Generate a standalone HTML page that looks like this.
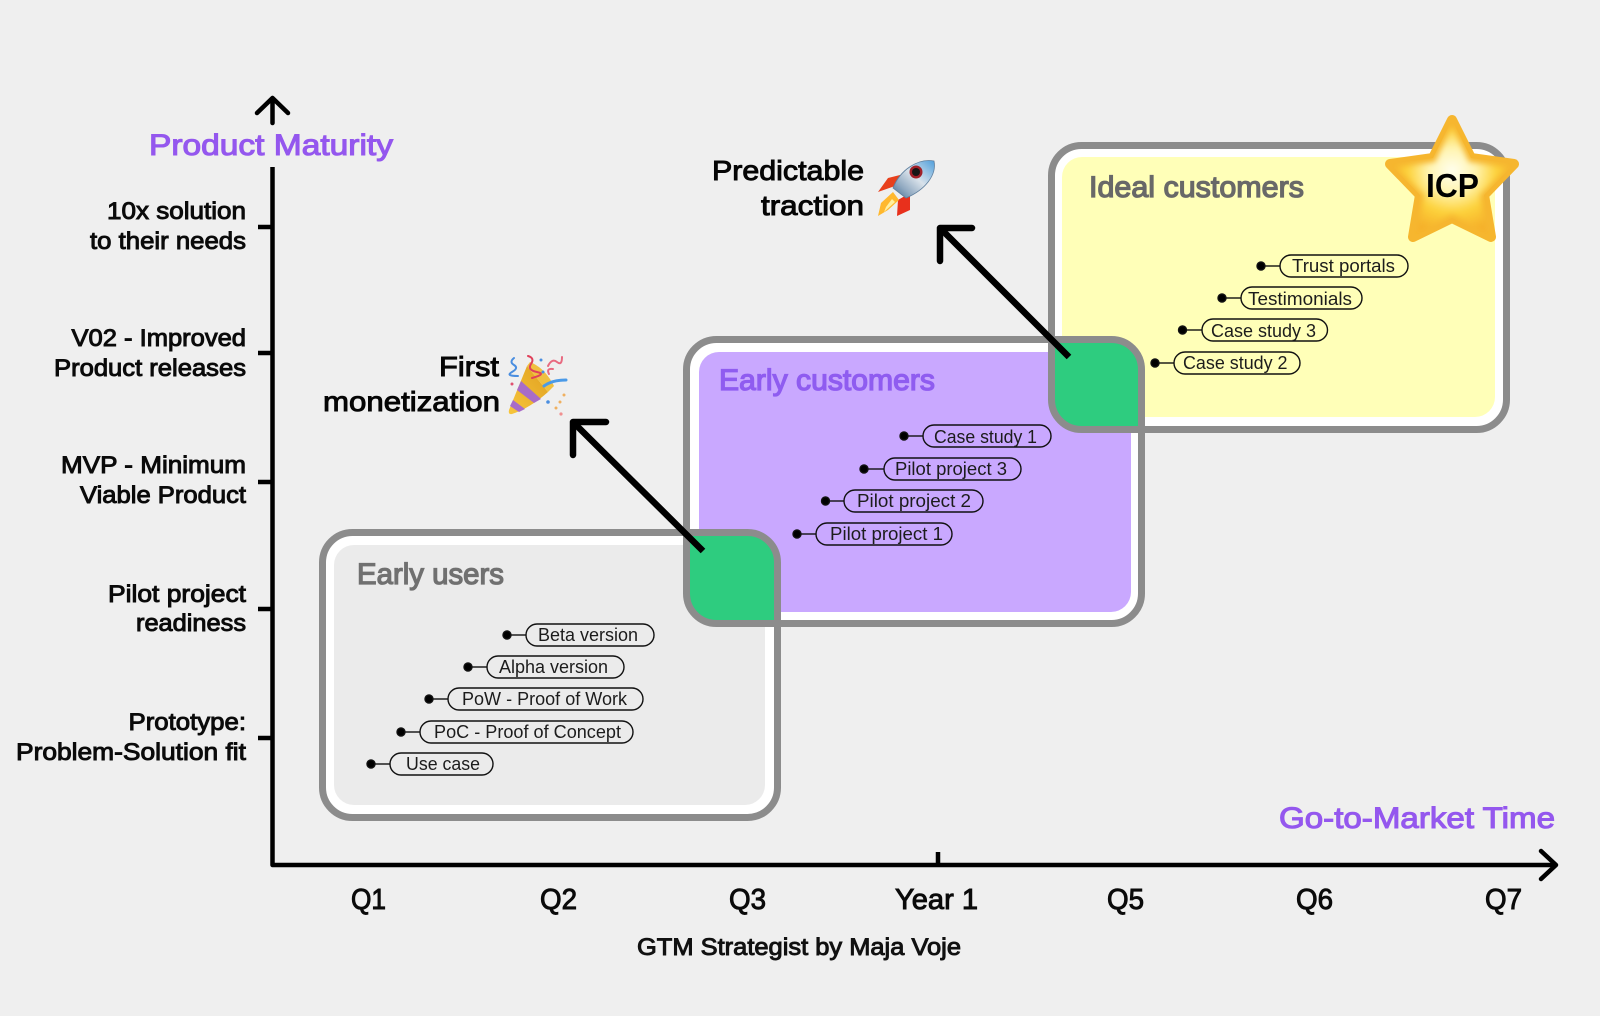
<!DOCTYPE html>
<html><head><meta charset="utf-8"><style>
html,body{margin:0;padding:0;background:#efefef}
svg{display:block}
text{font-family:"Liberation Sans",sans-serif}
.m{stroke-width:.95;paint-order:stroke}
.l{font-size:24px;fill:#0a0a0a;stroke:#0a0a0a}
.h{font-size:28px;fill:#050505;stroke:#050505}
.x{font-size:29px;fill:#0a0a0a;stroke:#0a0a0a}
.t{font-size:30px;stroke-width:1.3}
.p{font-size:18px;fill:#1c1c1c}
.pill{fill:none;stroke:#111;stroke-width:1.4}
.b{fill:none;stroke:#8c8c8c;stroke-width:7}
.a{fill:none;stroke:#000;stroke-linecap:round;stroke-linejoin:round}
</style></head><body>
<svg width="1600" height="1016" viewBox="0 0 1600 1016" xmlns="http://www.w3.org/2000/svg">
<defs>
<radialGradient id="st" cx="50%" cy="42%" r="60%"><stop offset="0" stop-color="#fffff0"/><stop offset=".35" stop-color="#fff4b0"/><stop offset=".65" stop-color="#fdd33c"/><stop offset="1" stop-color="#f5ae28"/></radialGradient>
<linearGradient id="rk" x1="1" y1="0" x2="0" y2="1"><stop offset="0" stop-color="#4f9fdc"/><stop offset=".45" stop-color="#d9e2ea"/><stop offset=".75" stop-color="#8fa8c0"/><stop offset="1" stop-color="#3f6a90"/></linearGradient>
<linearGradient id="cn" x1="0" y1="1" x2="1" y2="0"><stop offset="0" stop-color="#f7c63c"/><stop offset="1" stop-color="#e0a020"/></linearGradient>
<filter id="bl" x="-20%" y="-20%" width="140%" height="140%"><feGaussianBlur stdDeviation="3"/></filter>
<clipPath id="sc"><path d="M1452 120L1471 158L1514 164L1484 195L1491 237L1452 218L1413 237L1420 195L1390 164L1433 158Z"/></clipPath>
</defs>
<rect width="1600" height="1016" fill="#efefef"/>

<!-- boxes -->
<rect x="1051.5" y="145.5" width="455" height="284" rx="30" fill="#fff"/>
<rect x="1062" y="157" width="433" height="260" rx="20" fill="#ffffb8"/>
<rect x="686.5" y="339.5" width="455" height="284" rx="30" fill="#fff"/>
<rect x="699" y="352" width="432" height="260" rx="20" fill="#c9a8ff"/>
<rect x="322.5" y="532.5" width="455" height="285" rx="30" fill="#fff"/>
<rect x="334" y="545" width="431" height="260" rx="20" fill="#ebebeb"/>
<path d="M1051.5 339.5H1111.5A30 30 0 0 1 1141.5 369.5V429.5H1081.5A30 30 0 0 1 1051.5 399.5Z" fill="#2ecc7f"/>
<path d="M686.5 532.5H747.5A30 30 0 0 1 777.5 562.5V623.5H716.5A30 30 0 0 1 686.5 593.5Z" fill="#2ecc7f"/>
<rect class="b" x="1051.5" y="145.5" width="455" height="284" rx="30"/>
<rect class="b" x="686.5" y="339.5" width="455" height="284" rx="30"/>
<rect class="b" x="322.5" y="532.5" width="455" height="285" rx="30"/>

<!-- axes -->
<path class="a" stroke-width="4.5" style="stroke-linecap:butt" d="M272.5 167V865H1555"/>
<path class="a" stroke-width="4.5" d="M272.5 123V98M257 113L272.5 98L288 113"/>
<path class="a" stroke-width="4.5" d="M1541 851L1556 865L1541 879"/>
<path class="a" stroke-width="4.5" style="stroke-linecap:butt" d="M258 227H272M258 353H272M258 482H272M258 609H272M258 738H272M938 852V865"/>

<!-- axis titles -->
<text class="m" x="149" y="155" font-size="30" fill="#9457ee" stroke="#9457ee" style="stroke-width:1.1" textLength="244" lengthAdjust="spacingAndGlyphs">Product Maturity</text>
<text class="m" x="1279" y="828" font-size="30" fill="#9457ee" stroke="#9457ee" style="stroke-width:1.1" textLength="276" lengthAdjust="spacingAndGlyphs">Go-to-Market Time</text>

<!-- y labels -->
<text class="l m" x="107" y="219" textLength="139" lengthAdjust="spacingAndGlyphs">10x solution</text>
<text class="l m" x="90" y="249" textLength="156" lengthAdjust="spacingAndGlyphs">to their needs</text>
<text class="l m" x="71.5" y="346" textLength="174.5" lengthAdjust="spacingAndGlyphs">V02 - Improved</text>
<text class="l m" x="54" y="376" textLength="192" lengthAdjust="spacingAndGlyphs">Product releases</text>
<text class="l m" x="61" y="473" textLength="185" lengthAdjust="spacingAndGlyphs">MVP - Minimum</text>
<text class="l m" x="80" y="503" textLength="166" lengthAdjust="spacingAndGlyphs">Viable Product</text>
<text class="l m" x="108" y="602" textLength="138" lengthAdjust="spacingAndGlyphs">Pilot project</text>
<text class="l m" x="136" y="631" textLength="110" lengthAdjust="spacingAndGlyphs">readiness</text>
<text class="l m" x="128.5" y="730" textLength="117.5" lengthAdjust="spacingAndGlyphs">Prototype:</text>
<text class="l m" x="16" y="760" textLength="230" lengthAdjust="spacingAndGlyphs">Problem-Solution fit</text>

<!-- x labels -->
<text class="x m" x="351" y="909" textLength="35" lengthAdjust="spacingAndGlyphs">Q1</text>
<text class="x m" x="540" y="909" textLength="37" lengthAdjust="spacingAndGlyphs">Q2</text>
<text class="x m" x="729" y="909" textLength="37" lengthAdjust="spacingAndGlyphs">Q3</text>
<text class="x m" x="895" y="909" textLength="83" lengthAdjust="spacingAndGlyphs">Year 1</text>
<text class="x m" x="1107" y="909" textLength="37" lengthAdjust="spacingAndGlyphs">Q5</text>
<text class="x m" x="1296" y="909" textLength="37" lengthAdjust="spacingAndGlyphs">Q6</text>
<text class="x m" x="1485" y="909" textLength="37" lengthAdjust="spacingAndGlyphs">Q7</text>
<text class="m" x="637" y="955" font-size="24" fill="#111" stroke="#111" textLength="324" lengthAdjust="spacingAndGlyphs">GTM Strategist by Maja Voje</text>

<!-- headlines -->
<text class="h m" x="439" y="376" textLength="60" lengthAdjust="spacingAndGlyphs">First</text>
<text class="h m" x="323" y="411" textLength="177" lengthAdjust="spacingAndGlyphs">monetization</text>
<text class="h m" x="712" y="180" textLength="152" lengthAdjust="spacingAndGlyphs">Predictable</text>
<text class="h m" x="761" y="215" textLength="103" lengthAdjust="spacingAndGlyphs">traction</text>

<!-- group titles -->
<text class="t m" x="357" y="584" fill="#707070" stroke="#707070" textLength="147" lengthAdjust="spacingAndGlyphs">Early users</text>
<text class="t m" x="719" y="390" fill="#8f5cf0" stroke="#8f5cf0" textLength="216" lengthAdjust="spacingAndGlyphs">Early customers</text>
<text class="t m" x="1089" y="197" fill="#686868" stroke="#686868" textLength="215" lengthAdjust="spacingAndGlyphs">Ideal customers</text>

<!-- pills -->
<g fill="#000" stroke="#111" stroke-width="1.4">
<circle cx="507" cy="635" r="4" /><path d="M511 635H526"/>
<circle cx="468" cy="667" r="4" /><path d="M472 667H487"/>
<circle cx="429" cy="699" r="4" /><path d="M433 699H448"/>
<circle cx="401" cy="732" r="4" /><path d="M405 732H420"/>
<circle cx="371" cy="764" r="4" /><path d="M375 764H390"/>
<circle cx="904" cy="436" r="4" /><path d="M908 436H923"/>
<circle cx="864" cy="469" r="4" /><path d="M868 469H884"/>
<circle cx="825.5" cy="501" r="4" /><path d="M829 501H844"/>
<circle cx="797" cy="534" r="4" /><path d="M801 534H816"/>
<circle cx="1261" cy="266" r="4" /><path d="M1265 266H1280"/>
<circle cx="1222" cy="298" r="4" /><path d="M1226 298H1241"/>
<circle cx="1182.5" cy="330" r="4" /><path d="M1186 330H1202"/>
<circle cx="1155" cy="363" r="4" /><path d="M1159 363H1174"/>
</g>
<rect class="pill" x="526" y="624" width="128" height="22" rx="11"/>
<rect class="pill" x="487" y="656" width="137" height="22" rx="11"/>
<rect class="pill" x="448" y="688" width="195" height="22" rx="11"/>
<rect class="pill" x="420" y="721" width="213" height="22" rx="11"/>
<rect class="pill" x="390" y="753" width="103" height="22" rx="11"/>
<rect class="pill" x="923" y="425" width="128" height="22" rx="11"/>
<rect class="pill" x="884" y="458" width="137" height="22" rx="11"/>
<rect class="pill" x="844" y="490" width="139" height="22" rx="11"/>
<rect class="pill" x="816" y="523" width="136" height="22" rx="11"/>
<rect class="pill" x="1280" y="255" width="128" height="22" rx="11"/>
<rect class="pill" x="1241" y="287" width="121" height="22" rx="11"/>
<rect class="pill" x="1202" y="319" width="125.5" height="22" rx="11"/>
<rect class="pill" x="1174" y="352" width="126" height="22" rx="11"/>
<text class="p" x="538" y="641" textLength="100" lengthAdjust="spacingAndGlyphs">Beta version</text>
<text class="p" x="499" y="673" textLength="109" lengthAdjust="spacingAndGlyphs">Alpha version</text>
<text class="p" x="462" y="705" textLength="165" lengthAdjust="spacingAndGlyphs">PoW - Proof of Work</text>
<text class="p" x="434" y="738" textLength="187" lengthAdjust="spacingAndGlyphs">PoC - Proof of Concept</text>
<text class="p" x="406" y="770" textLength="74" lengthAdjust="spacingAndGlyphs">Use case</text>
<text class="p" x="934" y="443" textLength="103" lengthAdjust="spacingAndGlyphs">Case study 1</text>
<text class="p" x="895" y="475" textLength="112" lengthAdjust="spacingAndGlyphs">Pilot project 3</text>
<text class="p" x="857" y="507" textLength="114" lengthAdjust="spacingAndGlyphs">Pilot project 2</text>
<text class="p" x="830" y="540" textLength="113" lengthAdjust="spacingAndGlyphs">Pilot project 1</text>
<text class="p" x="1292" y="272" textLength="103" lengthAdjust="spacingAndGlyphs">Trust portals</text>
<text class="p" x="1248" y="305" textLength="104" lengthAdjust="spacingAndGlyphs">Testimonials</text>
<text class="p" x="1211" y="337" textLength="105" lengthAdjust="spacingAndGlyphs">Case study 3</text>
<text class="p" x="1183" y="369" textLength="104.5" lengthAdjust="spacingAndGlyphs">Case study 2</text>

<!-- big arrows -->
<path class="a" stroke-width="6.5" style="stroke-linecap:butt" d="M703 551L574 423"/>
<path class="a" stroke-width="6.5" d="M606 422H573V455"/>
<path class="a" stroke-width="6.5" style="stroke-linecap:butt" d="M1069 357L941 229"/>
<path class="a" stroke-width="6.5" d="M972 228H940V261"/>

<!-- star -->
<path d="M1452 120L1471 158L1514 164L1484 195L1491 237L1452 218L1413 237L1420 195L1390 164L1433 158Z" fill="#f6b62f" stroke="#f6b62f" stroke-width="10" stroke-linejoin="round"/>
<g clip-path="url(#sc)"><path d="M1452 126L1469 162L1508 167L1480 195L1486 232L1452 214L1418 232L1424 195L1396 167L1435 162Z" fill="url(#st)" filter="url(#bl)"/></g>
<text x="1426" y="197" font-size="33" font-weight="700" fill="#000" textLength="53" lengthAdjust="spacingAndGlyphs">ICP</text>

<!-- rocket -->
<g>
<path d="M895 186L878 192L888 178L904 174Z" fill="#e8401c"/>
<path d="M910 193L910 210L897 216L898 200Z" fill="#e8301c"/>
<path d="M893 192L899 200L888 210L878 216L881 203Z" fill="#ffb82e"/>
<path d="M886 207L892 199L895 202L884 212Z" fill="#fff0a0"/>
<path d="M934 161C937 175 925 190 906 198L893 188C900 170 918 158 934 161Z" fill="url(#rk)" stroke="#5f7f9e" stroke-width=".8"/>
<circle cx="916" cy="172" r="6.5" fill="#a02028"/><circle cx="916" cy="172" r="4" fill="#161616"/>
</g>

<!-- party popper -->
<g>
<path d="M509 410L527 366L548 392Q530 408 512 414Q508 415 509 410Z" fill="url(#cn)"/>
<path d="M521 381L541 399L534 403L517 390ZM513 400L525 409L519 412L510 406Z" fill="#a86cc8"/>
<path d="M527 366L548 392L554 386Q545 368 530 362Z" fill="#f0c040"/>
<g fill="none" stroke-width="2" stroke-linecap="round">
<path d="M514 358Q509 362 514 365T512 372T518 376" stroke="#4a8ee0"/>
<path d="M528 356Q535 358 531 364T537 372T532 378" stroke="#e0405a"/>
<path d="M548 366Q552 358 557 362T562 357M549 374Q546 368 553 369" stroke="#e86a80"/>
<path d="M544 386Q552 380 566 380" stroke="#4a9ae8" stroke-width="3"/>
</g>
<g>
<circle cx="541" cy="360" r="1.5" fill="#4a8ee0"/><circle cx="543" cy="372" r="1.5" fill="#4a8ee0"/><circle cx="512" cy="384" r="1.5" fill="#e05070"/>
<circle cx="548" cy="402" r="1.8" fill="#4a8ee0"/><circle cx="560" cy="402" r="1.5" fill="#f0b060"/><circle cx="556" cy="408" r="1.5" fill="#f0b060"/><circle cx="561" cy="414" r="1.6" fill="#f09090"/><circle cx="564" cy="395" r="1.5" fill="#f0b060"/>
</g>
</g>
</svg>
</body></html>
